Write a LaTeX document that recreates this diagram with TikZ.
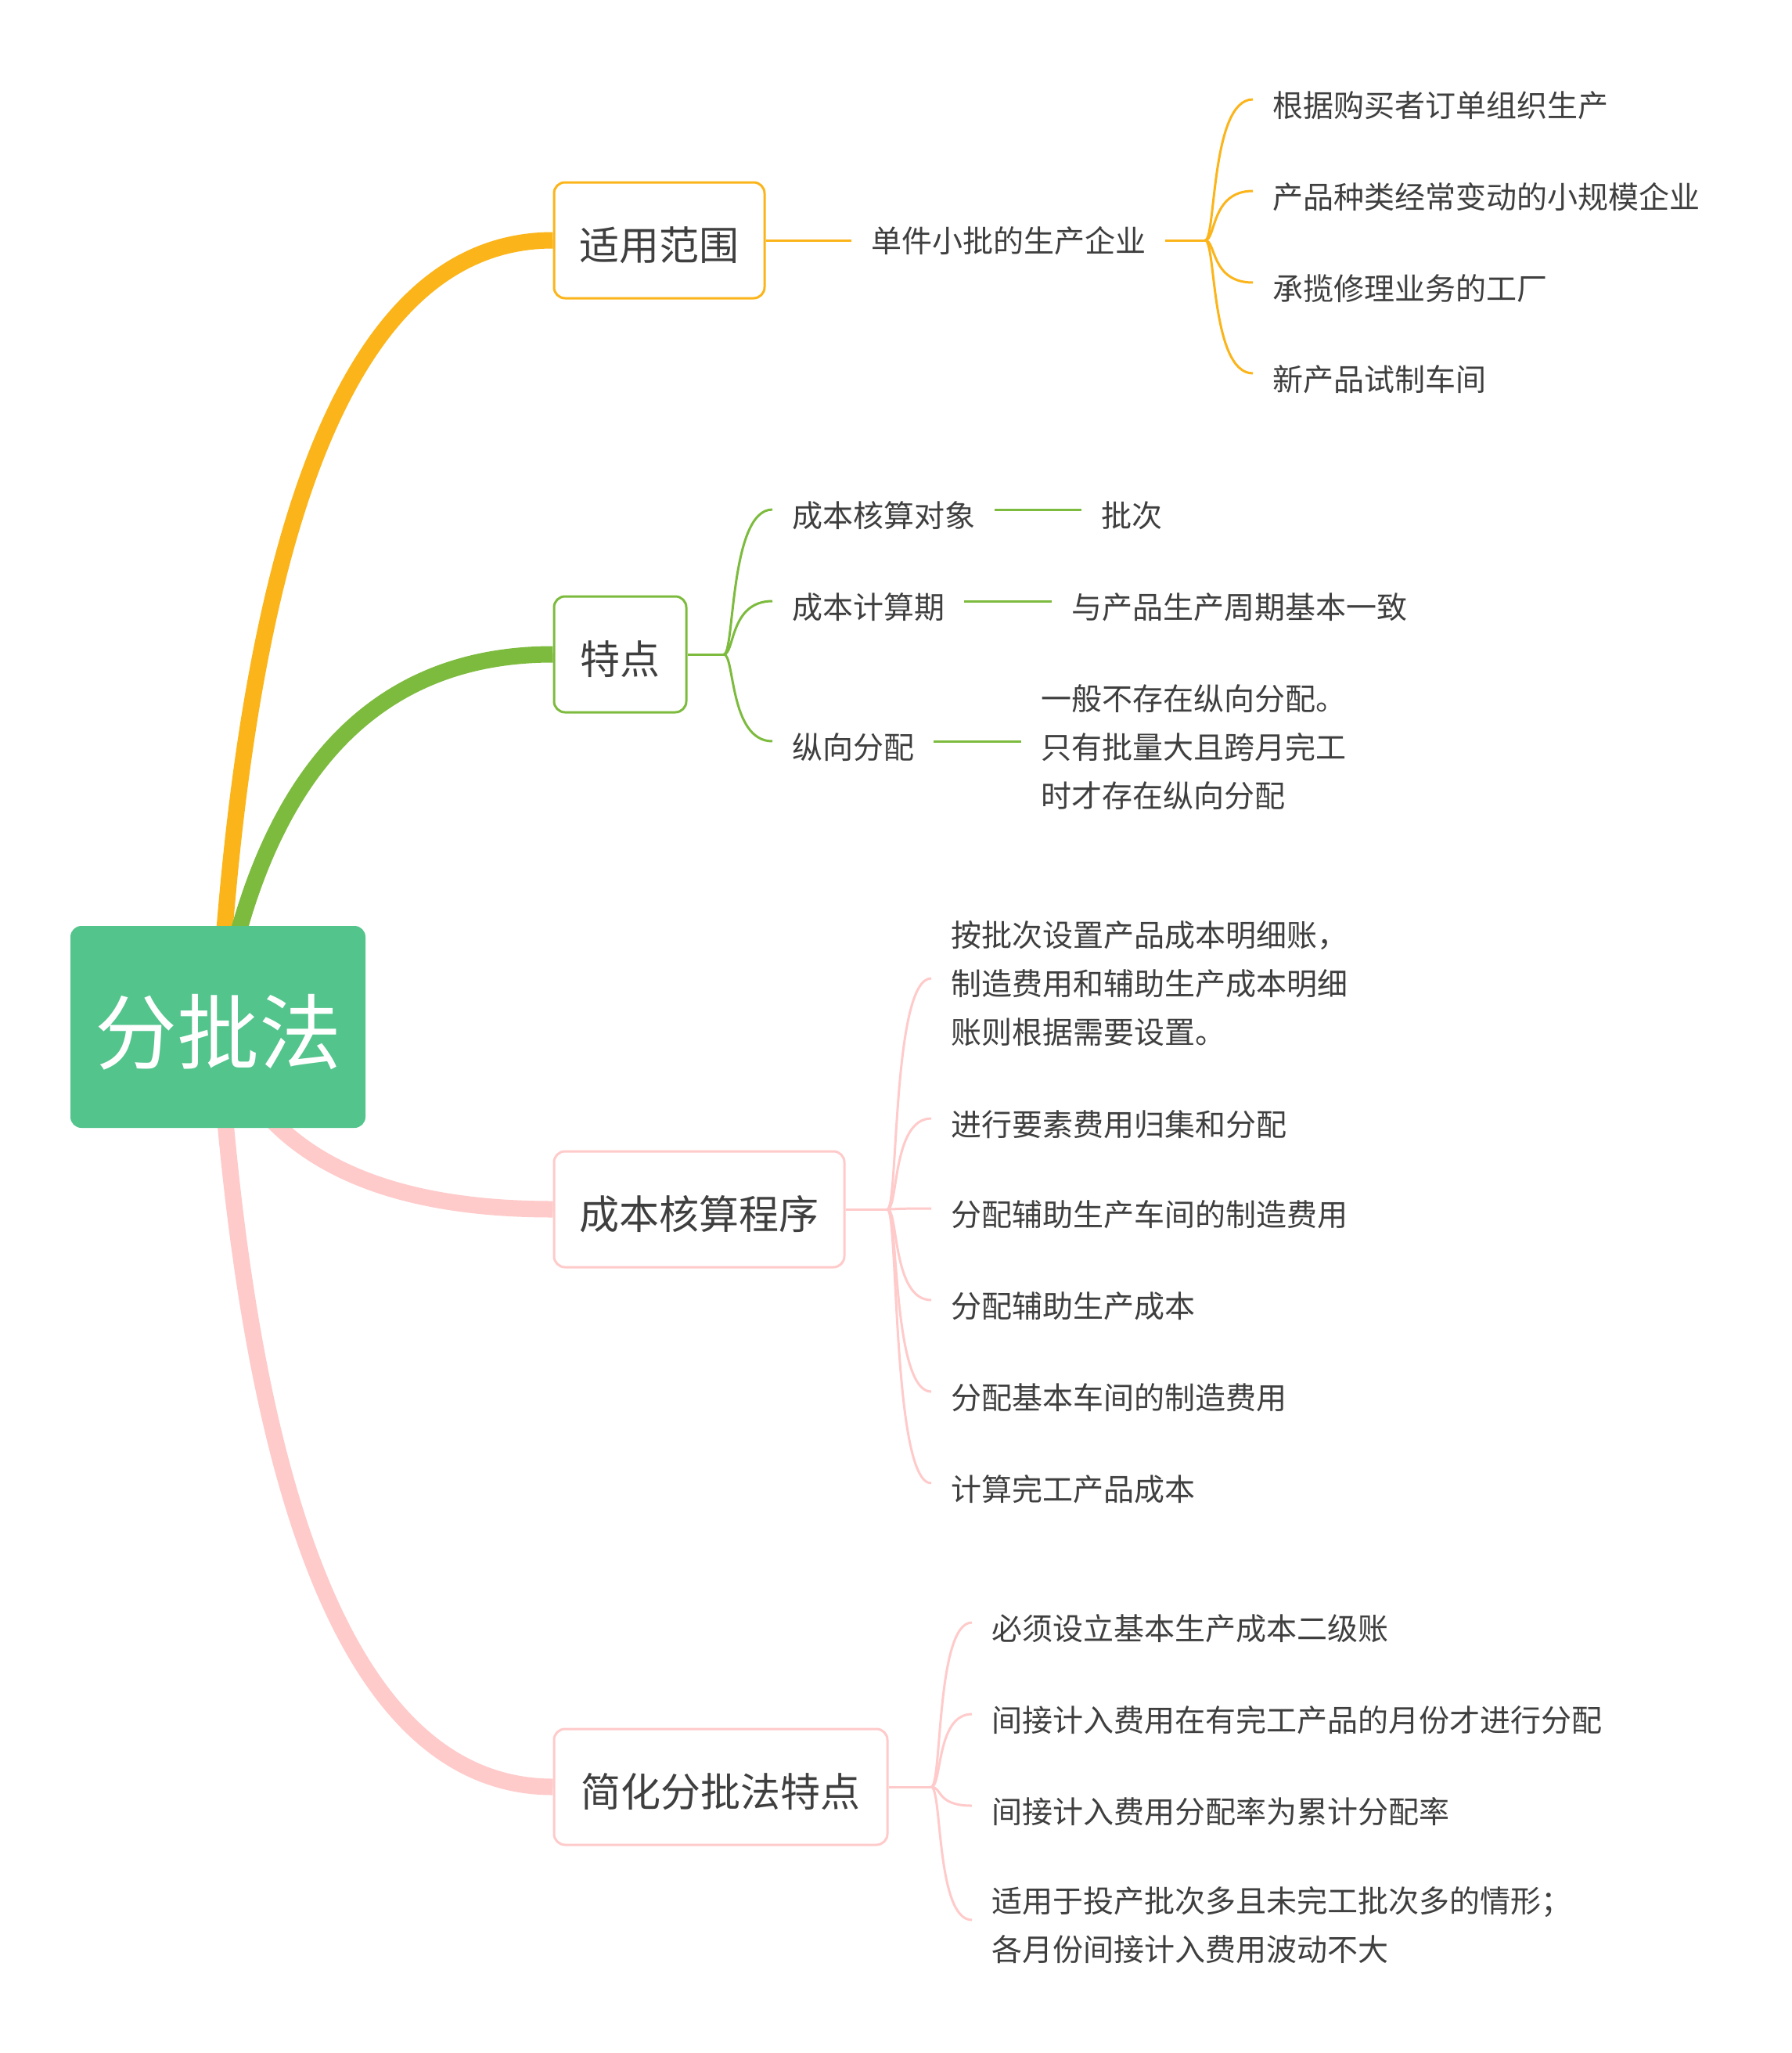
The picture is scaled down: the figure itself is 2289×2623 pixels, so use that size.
\documentclass[tikz,border=0pt]{standalone}
\usepackage{fontspec}
\setmainfont{Noto Sans CJK SC}
\usetikzlibrary{backgrounds}
\definecolor{rootc}{HTML}{52C48C}
\definecolor{ycol}{HTML}{FBB51A}
\definecolor{gcol}{HTML}{7DBB3E}
\definecolor{pcol}{HTML}{FFCACA}
\definecolor{textc}{HTML}{3F3F3F}
\begin{document}
\begin{tikzpicture}[x=1pt,y=-1pt,
  rootbox/.style={fill=rootc, rounded corners=14pt, minimum width=377pt, minimum height=258pt, inner sep=0pt, text=white, font=\fontsize{105}{115}\selectfont, text height=92pt, text depth=0pt},
  topicbox/.style={fill=white, line width=3pt, rounded corners=14pt, minimum height=148pt, inner sep=0pt, text=textc, font=\fontsize{51}{60}\selectfont, text height=51pt, text depth=0pt},
  leaf/.style={anchor=west, inner xsep=25pt, inner ysep=0pt, text=textc, font=\fontsize{39}{62}\selectfont, text height=44pt, text depth=0pt},
  leafml/.style={anchor=west, inner xsep=25pt, inner ysep=0pt, text=textc, font=\fontsize{39}{62}\selectfont, align=left},
  mainline/.style={line width=21pt},
  thinline/.style={line width=3pt},
]
\useasboundingbox (0,0) rectangle (2289,2623);

% ---------- nodes ----------
\node[rootbox] (root) at (278.5,1312) {分批法};

\node[topicbox, draw=ycol, minimum width=269pt] (b1) at (842.5,307) {适用范围};
\node[topicbox, draw=gcol, minimum width=169pt] (b2) at (792.5,836) {特点};
\node[topicbox, draw=pcol, minimum width=371pt] (b3) at (893.5,1545) {成本核算程序};
\node[topicbox, draw=pcol, minimum width=426pt] (b4) at (921,2283) {简化分批法特点};

% yellow branch
\node[leaf, text height=31pt] (t1) at (1088,307) {单件小批的生产企业};
\coordinate (f1) at (1540,307);
\node[leaf] (c11) at (1601,127) {根据购买者订单组织生产};
\node[leaf] (c12) at (1601,244) {产品种类经常变动的小规模企业};
\node[leaf] (c13) at (1601,361) {承揽修理业务的工厂};
\node[leaf] (c14) at (1601,477) {新产品试制车间};

% green branch
\coordinate (f2) at (925,836);
\node[leaf] (c21) at (987,651) {成本核算对象};
\node[leaf] (d21) at (1382,651) {批次};
\node[leaf] (c22) at (987,768) {成本计算期};
\node[leaf] (d22) at (1344,768) {与产品生产周期基本一致};
\node[leaf] (c23) at (987,947) {纵向分配};
\node[leafml] (d23) at (1305,955) {一般不存在纵向分配。\\只有批量大且跨月完工\\时才存在纵向分配};

% pink branch 3
\coordinate (f3) at (1134,1545);
\node[leafml] (c31) at (1190,1257) {按批次设置产品成本明细账，\\制造费用和辅助生产成本明细\\账则根据需要设置。};
\node[leaf] (c32) at (1190,1429) {进行要素费用归集和分配};
\node[leaf] (c33) at (1190,1544) {分配辅助生产车间的制造费用};
\node[leaf] (c34) at (1190,1661) {分配辅助生产成本};
\node[leaf] (c35) at (1190,1778) {分配基本车间的制造费用};
\node[leaf] (c36) at (1190,1895) {计算完工产品成本};

% pink branch 4
\coordinate (f4) at (1190,2283);
\node[leaf] (c41) at (1242,2073) {必须设立基本生产成本二级账};
\node[leaf] (c42) at (1242,2190) {间接计入费用在有完工产品的月份才进行分配};
\node[leaf] (c43) at (1242,2307) {间接计入费用分配率为累计分配率};
\node[leafml] (c44) at (1242,2460) {适用于投产批次多且未完工批次多的情形；\\各月份间接计入费用波动不大};

% ---------- main branches (behind the boxes) ----------
\begin{scope}[on background layer]
\fill[white] (0,0) rectangle (2289,2623);
\draw[mainline, ycol] (root.center) .. controls (316,642) and (459,307) .. (b1.west);
\draw[mainline, gcol] (root.center) .. controls (330,995) and (473,836) .. (b2.west);
\draw[mainline, pcol] (root.center) .. controls (326,1467) and (469,1545) .. (b3.west);
\draw[mainline, pcol] (root.center) .. controls (321,1959) and (465,2283) .. (b4.west);
\end{scope}

% ---------- yellow thin lines ----------
\draw[thinline, ycol] (b1.east) -- (t1.west);
\draw[thinline, ycol] (t1.east) -- (f1);
\foreach \c in {c11,c12,c13,c14}
  \draw[thinline, ycol] (f1) .. controls +(14,0) and +(-54,0) .. (\c.west);

% ---------- green thin lines ----------
\draw[thinline, gcol] (b2.east) -- (f2);
\foreach \c in {c21,c22,c23}
  \draw[thinline, gcol] (f2) .. controls +(14,0) and +(-55,0) .. (\c.west);
\draw[thinline, gcol] (c21.east) -- (d21.west);
\draw[thinline, gcol] (c22.east) -- (d22.west);
\draw[thinline, gcol] (c23.east) -- ([yshift=8pt]d23.west);

% ---------- pink thin lines (3) ----------
\draw[thinline, pcol] (b3.east) -- (f3);
\draw[thinline, pcol] (f3) .. controls +(14,0) and +(-50,0) .. ([yshift=7pt]c31.west);
\foreach \c in {c32,c33,c34,c35,c36}
  \draw[thinline, pcol] (f3) .. controls +(14,0) and +(-50,0) .. (\c.west);

% ---------- pink thin lines (4) ----------
\draw[thinline, pcol] (b4.east) -- (f4);
\foreach \c in {c41,c42,c43}
  \draw[thinline, pcol] (f4) .. controls +(14,0) and +(-46,0) .. (\c.west);
\draw[thinline, pcol] (f4) .. controls +(14,0) and +(-46,0) .. ([yshift=7pt]c44.west);
\end{tikzpicture}
\end{document}
